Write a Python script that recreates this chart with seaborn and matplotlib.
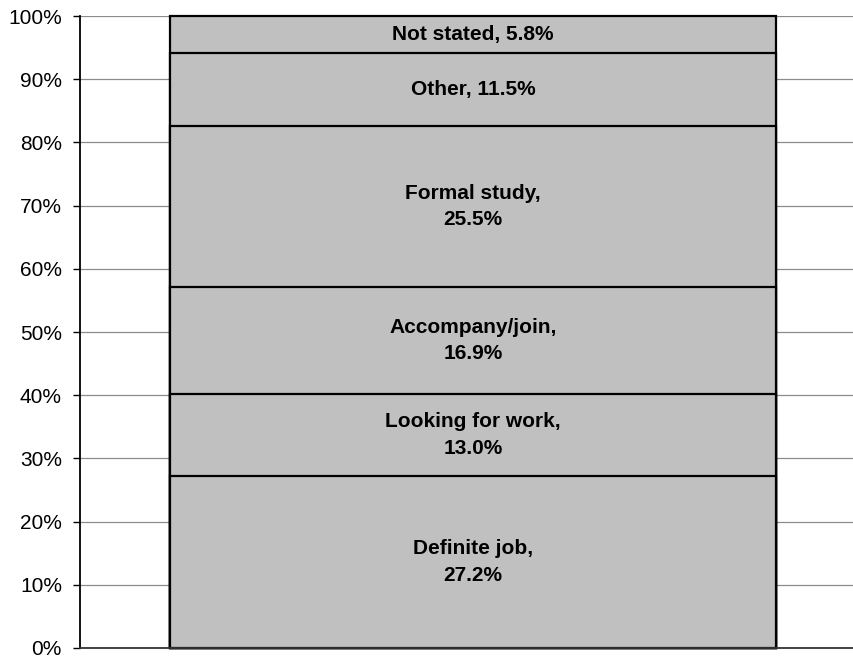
import numpy as np
import matplotlib
matplotlib.use("Agg")
import matplotlib.pyplot as plt
import seaborn as sns

# Reasons for migration, share of total (%)
categories = ["Definite job", "Looking for work", "Accompany/join", "Formal study", "Other", "Not stated"]
values = [27.2, 13.0, 16.9, 25.5, 11.5, 5.8]
two_line = [True, True, True, True, False, False]
tick_labels = [f"{t}%" for t in range(0, 101, 10)]

sns.set_theme(style="white")
plt.rcParams['font.family'] = ['Liberation Sans', 'DejaVu Sans']
plt.rcParams['text.color'] = 'black'

fig = plt.figure(figsize=(8.54, 6.59), dpi=100)
ax = fig.add_axes([0.0937, 0.0167, 0.905, 0.959])

# cumulative tops, last segment forced to 100 (rounding)
tops = np.cumsum(values)
tops[-1] = 100.0
bottoms = np.concatenate([[0], tops[:-1]])

# draw tallest first so each shorter bar covers the one behind it
for top in tops[::-1]:
    sns.barplot(x=[0], y=[top], ax=ax, color="#C0C0C0", saturation=1,
                edgecolor="black", linewidth=1.6, width=0.783, native_scale=True, zorder=2)
for p in ax.patches:
    p.set_clip_on(False)

for cat, val, b, t, two in zip(categories, values, bottoms, tops, two_line):
    txt = f"{cat},\n{val:.1f}%" if two else f"{cat}, {val:.1f}%"
    ax.text(0, (b + t) / 2, txt, ha="center", va="center", fontsize=15,
            fontweight="bold", linespacing=1.5, color="black", zorder=3)

ax.set_xlim(-0.5084, 0.4916)
ax.set_ylim(0, 100)
ax.set_yticks(range(0, 101, 10))
ax.set_yticklabels(tick_labels, fontsize=15, color="black")
ax.set_xticks([])
ax.set_xlabel("")
ax.set_ylabel("")
ax.yaxis.grid(True, color="#8c8c8c", linewidth=0.9, zorder=0)
ax.set_axisbelow(True)
ax.tick_params(axis="y", left=True, length=5, width=1, color="black", pad=8, labelcolor="black")

for s in ["top", "right"]:
    ax.spines[s].set_visible(False)
ax.spines["left"].set_color("black")
ax.spines["left"].set_linewidth(1.3)
ax.spines["bottom"].set_color("#333333")
ax.spines["bottom"].set_linewidth(1.3)

fig.savefig("out.png", dpi=100)
